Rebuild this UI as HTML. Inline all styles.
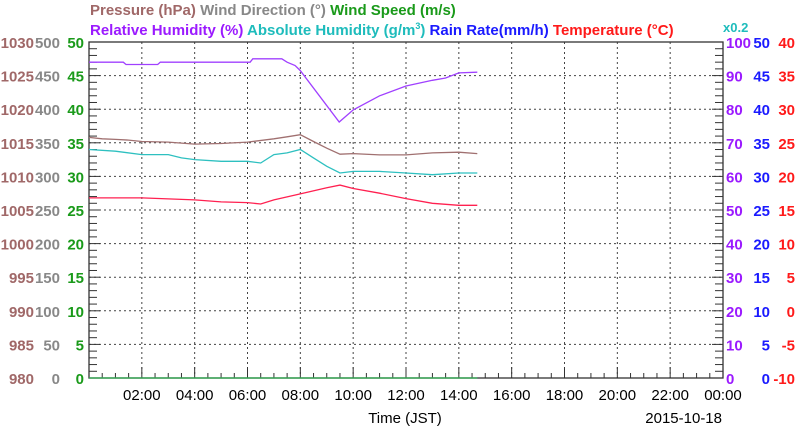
<!DOCTYPE html>
<html><head><meta charset="utf-8"><style>
html,body{margin:0;padding:0;background:#fff;width:800px;height:434px;overflow:hidden}
svg{display:block;font-family:"Liberation Sans",sans-serif}
</style></head><body>
<svg id="chart" width="800" height="434">
<g font-weight="bold" font-size="15">
<text x="90" y="15"><tspan fill="#a06868">Pressure (hPa)</tspan> <tspan fill="#888">Wind Direction (°)</tspan> <tspan fill="#1a9a1a">Wind Speed (m/s)</tspan></text>
<text x="90" y="35"><tspan fill="#9b1aff">Relative Humidity (%)</tspan> <tspan fill="#1ebcbc">Absolute Humidity (g/m<tspan font-size="9" dy="-6">3</tspan><tspan dy="6">)</tspan></tspan> <tspan fill="#1a1aff">Rain Rate(mm/h)</tspan> <tspan fill="#ff1a1a">Temperature (°C)</tspan></text>
<text x="723" y="32" fill="#1ebcbc" font-size="13">x0.2</text>
</g>
<g id="grid"></g><g id="axes"></g><g id="series"></g>
<text x="405" y="423" font-size="15" text-anchor="middle">Time (JST)</text>
<text x="722" y="423" font-size="15" text-anchor="end">2015-10-18</text>
</svg>
<script>
const xTickLabels=["02:00","04:00","06:00","08:00","10:00","12:00","14:00","16:00","18:00","20:00","22:00","00:00"];
const pressTicks=[980,985,990,995,1000,1005,1010,1015,1020,1025,1030];
const windDirTicks=[0,50,100,150,200,250,300,350,400,450,500];
const windSpdTicks=[0,5,10,15,20,25,30,35,40,45,50];
const rhTicks=[0,10,20,30,40,50,60,70,80,90,100];
const rainTicks=[0,5,10,15,20,25,30,35,40,45,50];
const tempTicks=[-10,-5,0,5,10,15,20,25,30,35,40];
const pTimes=[0,0.5,1,1.5,2,3,4,5,6,7,7.5,8,8.5,9,9.5,10,11,12,13,14,14.7];
const pVals=[1015.8,1015.6,1015.5,1015.4,1015.2,1015.1,1014.8,1014.9,1015.1,1015.6,1015.9,1016.2,1015.2,1014.2,1013.3,1013.4,1013.2,1013.2,1013.5,1013.6,1013.4];
const ahTimes=[0,1,2,3,3.5,4,5,6,6.5,7,7.5,8,8.5,9,9.5,10,11,12,13,14,14.7];
const ahVals=[13.6,13.5,13.3,13.3,13.1,13.0,12.9,12.9,12.8,13.3,13.4,13.6,13.1,12.6,12.2,12.3,12.3,12.2,12.1,12.2,12.2];
const tTimes=[0,2,4,5,6,6.5,7,8,9,9.5,10,11,12,13,14,14.7];
const tVals=[16.8,16.8,16.5,16.2,16.1,15.9,16.5,17.4,18.3,18.7,18.2,17.5,16.7,16.0,15.7,15.7];
const rhTimes=[0,1.3,1.4,2.6,2.7,6.1,6.2,7.3,7.5,7.8,8.0,9.47,10,11,12,13,13.5,14,14.7];
const rhVals=[94,94,93.3,93.3,94,94,95,95,94,93,91.5,76.2,79.8,84,86.9,88.6,89.3,90.8,91];
const rainTimes=[0,14.7];
const rainVals=[0,0];
const wsTimes=[0,14.7];
const wsVals=[0,0];
const NS="http://www.w3.org/2000/svg";
const X0=89,X1=723,Y0=378,Y1=42;
const xs=h=>X0+h/24*(X1-X0);
const ys=(v,lo,hi)=>Y0-(v-lo)/(hi-lo)*(Y0-Y1);
function mk(tag,attrs,parent){const e=document.createElementNS(NS,tag);for(const k in attrs)e.setAttribute(k,attrs[k]);parent.appendChild(e);return e;}
const grid=document.getElementById('grid'),axes=document.getElementById('axes'),ser=document.getElementById('series');
for(let i=1;i<=11;i++){const x=xs(i*2);const l=mk('line',{x1:x,x2:x,y1:Y1,y2:Y0,stroke:'#444','stroke-dasharray':'2,3','stroke-width':1},grid);

}
for(let i=1;i<=9;i++){const y=ys(i,0,10);const l=mk('line',{x1:X0,x2:X1,y1:y,y2:y,stroke:'#444','stroke-dasharray':'2,3','stroke-width':1},grid);

}
const frame=mk('rect',{x:X0,y:Y1,width:X1-X0,height:Y0-Y1,fill:'none',stroke:'#333','stroke-width':1.3},axes);


for(let i=0;i<=50;i++){const y=ys(i,0,50);const len=i%5==0?11:8;
const a=mk('line',{x1:X0,x2:X0+len,y1:y,y2:y,stroke:'#333'},axes);


const b=mk('line',{x1:X1,x2:X1-len,y1:y,y2:y,stroke:'#333'},axes);

}
for(let i=1;i<48;i++){const x=xs(i/2);const len=i%4==0?11:5;
const t=mk('line',{x1:x,x2:x,y1:Y0,y2:Y0-len,stroke:'#333'},axes);

}
xTickLabels.forEach((s,i)=>{const t=mk('text',{x:xs((i+1)*2),y:Y0+22,'font-size':15,'text-anchor':'middle'},axes);t.textContent=s;

});
function col(arr,x,color,name,anchor){arr.forEach((v,i)=>{const t=mk('text',{x:x,y:ys(i,0,10)+6,'font-size':15,'font-weight':'bold',fill:color,'text-anchor':anchor},axes);t.textContent=v;

});}
col(pressTicks,34,'#a06868','pressure-tick-label','end');
col(windDirTicks,60,'#888','wind-direction-tick-label','end');
col(windSpdTicks,84,'#1a9a1a','wind-speed-tick-label','end');
col(rhTicks,726,'#9b1aff','humidity-tick-label','start');
col(rainTicks,770,'#1a1aff','rain-rate-tick-label','end');
col(tempTicks,795,'#ff1a1a','temperature-tick-label','end');
function line(ts,vs,lo,hi,color,name){const p=mk('polyline',{points:ts.map((t,i)=>xs(t).toFixed(1)+','+ys(vs[i],lo,hi).toFixed(1)).join(' '),fill:'none',stroke:color,'stroke-width':1.3},ser);

}
line(pTimes,pVals,980,1030,'#a07070','pressure-line');
line(ahTimes,ahVals,0,20,'#2ec0c0','absolute-humidity-line');
line(tTimes,tVals,-10,40,'#ff2050','temperature-line');
line(rhTimes,rhVals,0,100,'#a040ff','relative-humidity-line');
line(rainTimes,rainVals,0,50,'#1a1aff','rain-rate-line');
line(wsTimes,wsVals,0,50,'#3cc03c','wind-speed-line');
</script>
</body></html>
